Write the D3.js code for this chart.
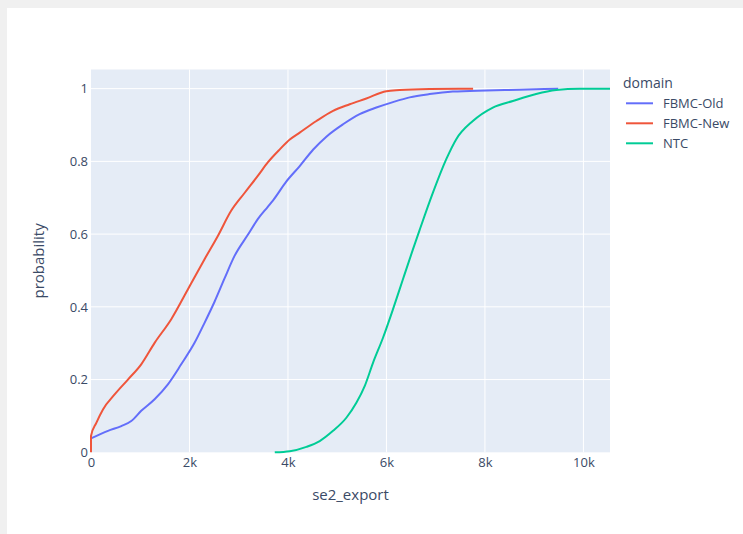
<!DOCTYPE html>
<html>
<head>
<meta charset="utf-8">
<script src="https://cdn.jsdelivr.net/npm/d3@7/dist/d3.min.js"></script>
<style>
  html, body { margin: 0; padding: 0; background: #f0f0f0; }
  svg { display: block; }
</style>
</head>
<body>
<svg id="chart" width="743" height="534"></svg>
<script>
// Empirical CDF of se2_export per domain
const seriesNames = ["FBMC-Old", "FBMC-New", "NTC"];
const seriesColors = ["#636efa", "#EF553B", "#00cc96"];

const fbmcOldX = [0, 345, 615, 818, 1020, 1292, 1562, 1832, 2103, 2306, 2509, 2712, 2915, 3185, 3387, 3590, 3698, 3969, 4239, 4509, 4780, 5118, 5456, 5795, 6132, 6471, 6876, 7349, 8026, 8700, 9488];
const fbmcOldY = [0.038, 0.059, 0.072, 0.086, 0.114, 0.146, 0.187, 0.242, 0.301, 0.356, 0.414, 0.478, 0.54, 0.598, 0.641, 0.675, 0.693, 0.745, 0.787, 0.832, 0.868, 0.902, 0.93, 0.948, 0.963, 0.976, 0.985, 0.992, 0.995, 0.997, 1.0];

const fbmcNewX = [0, 0, 108, 243, 480, 750, 1020, 1292, 1630, 1988, 2306, 2576, 2846, 3118, 3387, 3590, 3834, 4037, 4239, 4578, 4915, 5254, 5592, 5998, 6268, 6876, 7760];
const fbmcNewY = [0, 0.045, 0.081, 0.118, 0.159, 0.2, 0.242, 0.301, 0.366, 0.453, 0.531, 0.595, 0.664, 0.713, 0.76, 0.797, 0.833, 0.86, 0.879, 0.911, 0.939, 0.957, 0.973, 0.993, 0.996, 0.999, 1.0];

const ntcX = [3732, 4037, 4375, 4645, 4915, 5186, 5389, 5558, 5727, 5930, 6132, 6335, 6538, 6673, 6944, 7215, 7418, 7755, 8161, 8567, 9040, 9446, 9919, 10540];
const ntcY = [0, 0.003, 0.015, 0.031, 0.059, 0.095, 0.136, 0.182, 0.246, 0.315, 0.393, 0.476, 0.558, 0.611, 0.714, 0.806, 0.861, 0.911, 0.948, 0.966, 0.985, 0.996, 1.0, 1.0];

const xTicks = [0, 2000, 4000, 6000, 8000, 10000];
const xTickLabels = ["0", "2k", "4k", "6k", "8k", "10k"];
const yTicks = [0, 0.2, 0.4, 0.6, 0.8, 1];
const yTickLabels = ["0", "0.2", "0.4", "0.6", "0.8", "1"];

const xTitle = "se2_export";
const yTitle = "probability";
const legendTitle = "domain";

const series = [
  { name: seriesNames[0], color: seriesColors[0], xs: fbmcOldX, ys: fbmcOldY },
  { name: seriesNames[1], color: seriesColors[1], xs: fbmcNewX, ys: fbmcNewY },
  { name: seriesNames[2], color: seriesColors[2], xs: ntcX, ys: ntcY }
];

const svg = d3.select("#chart");
const font = "'Open Sans', Verdana, Arial, sans-serif";
const textColor = "#3a4a66";

// white page area
svg.append("rect").attr("x", 7).attr("y", 8).attr("width", 736).attr("height", 526).attr("fill", "#ffffff");

const plot = { left: 91, right: 610, top: 69.5, bottom: 452.3 };

const x = d3.scaleLinear().domain([0, 10540]).range([plot.left, plot.right]);
const y = d3.scaleLinear().domain([0, 1.0526]).range([plot.bottom, plot.top]);

svg.append("rect")
  .attr("x", plot.left).attr("y", plot.top)
  .attr("width", plot.right - plot.left).attr("height", plot.bottom - plot.top)
  .attr("fill", "#E5ECF6");

// grid
const grid = svg.append("g");
grid.selectAll("line.vx").data(xTicks.slice(1)).join("line")
  .attr("x1", d => x(d)).attr("x2", d => x(d))
  .attr("y1", plot.top).attr("y2", plot.bottom)
  .attr("stroke", "#ffffff").attr("stroke-width", 1);
grid.selectAll("line.hy").data(yTicks.slice(1)).join("line")
  .attr("y1", d => y(d)).attr("y2", d => y(d))
  .attr("x1", plot.left).attr("x2", plot.right)
  .attr("stroke", "#ffffff").attr("stroke-width", 1);

// axes (tick labels only)
const xAxis = d3.axisBottom(x).tickValues(xTicks).tickSize(0).tickPadding(5)
  .tickFormat((d, i) => xTickLabels[i]);
const gx = svg.append("g").attr("transform", `translate(0,${plot.bottom})`).call(xAxis);
gx.select(".domain").remove();
gx.selectAll("text").attr("font-family", font).attr("font-size", 13).attr("fill", textColor);

const yAxis = d3.axisLeft(y).tickValues(yTicks).tickSize(0).tickPadding(3)
  .tickFormat((d, i) => yTickLabels[i]);
const gy = svg.append("g").attr("transform", `translate(${plot.left},0)`).call(yAxis);
gy.select(".domain").remove();
gy.selectAll("text").attr("font-family", font).attr("font-size", 13).attr("fill", textColor);

// lines
svg.append("clipPath").attr("id", "plotclip").append("rect")
  .attr("x", plot.left - 2).attr("y", plot.top).attr("width", plot.right - plot.left + 2).attr("height", plot.bottom - plot.top + 3);

const line = d3.line().x(d => x(d[0])).y(d => y(d[1])).curve(d3.curveMonotoneX);
svg.append("g").attr("clip-path", "url(#plotclip)")
  .selectAll("path").data(series).join("path")
  .attr("d", s => line(s.xs.map((v, i) => [v, s.ys[i]])))
  .attr("fill", "none")
  .attr("stroke", s => s.color)
  .attr("stroke-width", 2)
  .attr("stroke-linejoin", "round");

// axis titles
svg.append("text")
  .attr("x", (plot.left + plot.right) / 2).attr("y", 500)
  .attr("text-anchor", "middle")
  .attr("font-family", font).attr("font-size", 15).attr("fill", textColor)
  .text(xTitle);

svg.append("text")
  .attr("transform", `translate(44,${(plot.top + plot.bottom) / 2}) rotate(-90)`)
  .attr("text-anchor", "middle")
  .attr("font-family", font).attr("font-size", 15).attr("fill", textColor)
  .text(yTitle);

// legend
const legend = svg.append("g");
legend.append("text")
  .attr("x", 623).attr("y", 88)
  .attr("font-family", font).attr("font-size", 14).attr("fill", textColor)
  .text(legendTitle);

const items = legend.selectAll("g.item").data(series).join("g")
  .attr("transform", (d, i) => `translate(0,${103.3 + i * 20})`);
items.append("line")
  .attr("x1", 626).attr("x2", 653).attr("y1", 0).attr("y2", 0)
  .attr("stroke", d => d.color).attr("stroke-width", 2);
items.append("text")
  .attr("x", 663).attr("y", 4.5)
  .attr("font-family", font).attr("font-size", 13).attr("fill", textColor)
  .text(d => d.name);
</script>
</body>
</html>
